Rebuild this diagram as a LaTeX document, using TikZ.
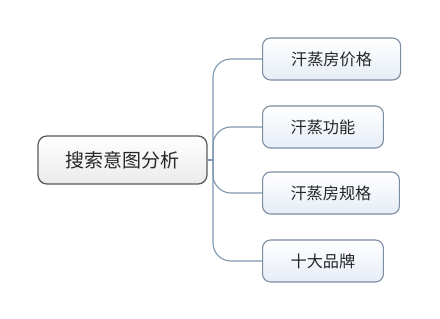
\documentclass[tikz,border=0pt]{standalone}
\usepackage{fontspec}
\setmainfont{Noto Sans CJK SC}
\usetikzlibrary{positioning}
\definecolor{rootline}{HTML}{5A5A5A}
\definecolor{leafline}{HTML}{7D8EA3}
\definecolor{leafbot}{HTML}{E6EDF7}
\definecolor{linkcol}{HTML}{7E97B0}
\tikzset{
  rootbox/.style={draw=rootline, line width=0.9pt, rounded corners=0.22cm,
    top color=white, bottom color=black!8, minimum width=4.22cm,
    minimum height=1.2cm, font=\fontsize{13.5}{16}\selectfont, text=black!85},
  leafbox/.style={draw=leafline, line width=0.8pt, rounded corners=0.2cm,
    top color=white, bottom color=leafbot, minimum height=1.05cm,
    anchor=west, font=\fontsize{11.5}{14}\selectfont, text=black!85},
  link/.style={draw=linkcol, line width=0.8pt, rounded corners=0.45cm}
}
\begin{document}
\begin{tikzpicture}[x=0.025cm, y=-0.025cm]
    % Canvas
    \useasboundingbox (0,0) rectangle (440,319);

    % Central topic
    \node[rootbox] (root) at (122.5,160) {搜索意图分析};

    % Subtopics
    \node[leafbox, minimum width=3.45cm] (price) at (262,59) {汗蒸房价格};
    \node[leafbox, minimum width=3.02cm] (func) at (262,127) {汗蒸功能};
    \node[leafbox, minimum width=3.42cm] (spec) at (262,193) {汗蒸房规格};
    \node[leafbox, minimum width=3.02cm] (brand) at (262,261) {十大品牌};

    % Branch point
    \coordinate (fork) at (213,160);

    % Connectors
    \draw[link] (root.east) -- (fork);
    \foreach \leaf in {price,func,spec,brand}
        \draw[link] (fork) |- (\leaf.west);
\end{tikzpicture}
\end{document}
